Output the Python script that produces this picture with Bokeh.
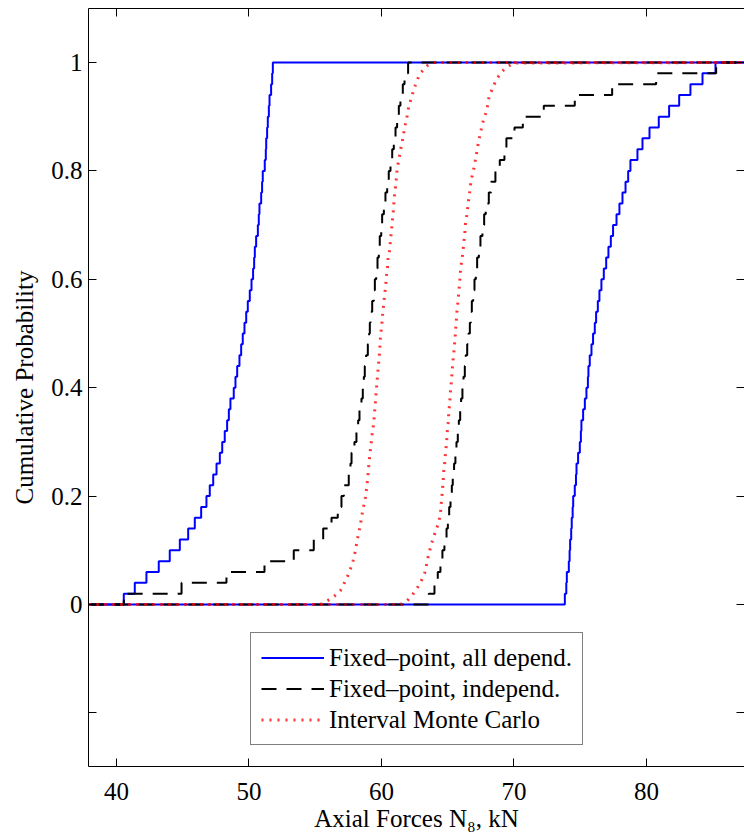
from bokeh.plotting import figure
from bokeh.models import Range1d, LinearAxis, FixedTicker, Legend, LegendItem
from bokeh.embed import file_html
from bokeh.resources import INLINE

# ---------------- data ----------------
X_MIN, X_MAX = 37.887, 87.40
Y_MIN, Y_MAX = -0.2989, 1.0996
x_ticks = [40, 50, 60, 70, 80]
y_ticks = [-0.2, 0, 0.2, 0.4, 0.6, 0.8, 1.0]
y_tick_labels = ["", "0", "0.2", "0.4", "0.6", "0.8", "1"]

x_label = "Axial Forces N\u2088, kN"
y_label = "Cumulative Probability"
legend_labels = ["Fixed\u2013point, all depend.",
                 "Fixed\u2013point, independ.",
                 "Interval Monte Carlo"]

# sample values (50 each) of the step CDF bounds
dep_lower = [40.55, 41.38, 42.26, 43.19, 44.02, 44.78, 45.41, 45.91, 46.39, 46.79,
             47.04, 47.30, 47.55, 47.80, 47.98, 48.17, 48.35, 48.48, 48.60, 48.85,
             48.98, 49.11, 49.28, 49.41, 49.53, 49.66, 49.79, 49.91, 50.06, 50.19,
             50.31, 50.39, 50.44, 50.54, 50.67, 50.74, 50.79, 50.92, 50.99, 51.04,
             51.19, 51.27, 51.30, 51.37, 51.42, 51.50, 51.55, 51.67, 51.75, 51.80]
dep_upper = [73.84, 73.95, 73.99, 74.14, 74.20, 74.24, 74.32, 74.36, 74.43, 74.47,
             74.59, 74.68, 74.72, 74.84, 74.97, 75.05, 75.09, 75.22, 75.35, 75.47,
             75.58, 75.62, 75.72, 75.85, 75.97, 76.10, 76.20, 76.33, 76.45, 76.60,
             76.78, 76.96, 77.13, 77.31, 77.48, 77.74, 77.96, 78.19, 78.42, 78.62,
             78.79, 79.32, 79.70, 80.23, 80.93, 81.71, 82.47, 83.32, 84.23, 85.21]
ind_lower = [40.55, 44.91, 48.30, 51.17, 53.38, 54.89, 55.60, 56.23, 56.70, 56.98,
             57.16, 57.53, 57.66, 57.74, 57.96, 58.11, 58.24, 58.34, 58.49, 58.59,
             58.67, 58.74, 58.84, 58.97, 59.07, 59.12, 59.17, 59.30, 59.42, 59.50,
             59.60, 59.70, 59.80, 59.87, 59.98, 60.05, 60.18, 60.30, 60.43, 60.55,
             60.68, 60.81, 60.93, 61.06, 61.18, 61.31, 61.43, 61.61, 61.74, 62.01]
ind_upper = [63.57, 64.00, 64.25, 64.45, 64.60, 64.75, 64.91, 65.01, 65.11, 65.21,
             65.31, 65.38, 65.48, 65.58, 65.66, 65.76, 65.84, 65.94, 66.01, 66.11,
             66.19, 66.29, 66.36, 66.47, 66.57, 66.67, 66.74, 66.82, 66.92, 67.02,
             67.12, 67.22, 67.35, 67.47, 67.62, 67.75, 67.87, 68.10, 68.28, 68.60,
             68.93, 69.28, 69.43, 70.04, 70.67, 72.25, 74.59, 77.41, 80.73, 85.26]

# Interval Monte Carlo bounds (read as curves)
imc_lower_x = [55.40, 55.65, 56.15, 56.53, 56.91, 57.16, 57.41, 57.66, 57.86, 58.04,
               58.16, 58.29, 58.42, 58.54, 58.67, 58.79, 58.92, 59.04, 59.17, 59.30,
               59.42, 59.55, 59.67, 59.85, 59.92, 60.02, 60.10, 60.18, 60.25, 60.33,
               60.38, 60.45, 60.50, 60.63, 60.68, 60.75, 60.81, 60.88, 60.93, 60.98,
               61.06, 61.13, 61.18, 61.31, 61.43, 61.56, 61.68, 61.81, 61.94, 62.06,
               62.26, 62.44, 62.64, 62.89, 63.45, 63.95]
imc_lower_y = [0.000, 0.004, 0.010, 0.017, 0.026, 0.038, 0.050, 0.066, 0.081, 0.100,
               0.118, 0.133, 0.149, 0.167, 0.183, 0.198, 0.223, 0.256, 0.287, 0.315,
               0.336, 0.376, 0.413, 0.463, 0.493, 0.515, 0.539, 0.558, 0.573, 0.592,
               0.607, 0.622, 0.640, 0.656, 0.673, 0.689, 0.705, 0.722, 0.739, 0.755,
               0.771, 0.788, 0.804, 0.820, 0.838, 0.853, 0.870, 0.887, 0.902, 0.919,
               0.935, 0.950, 0.964, 0.979, 0.994, 1.000]
imc_upper_x = [61.31, 61.56, 61.94, 62.32, 62.57, 62.82, 63.07, 63.25, 63.37, 63.45,
               63.57, 63.75, 64.05, 64.30, 64.45, 64.50, 64.58, 64.65, 64.70, 64.78,
               64.83, 64.91, 64.96, 65.03, 65.08, 65.16, 65.21, 65.28, 65.33, 65.38,
               65.46, 65.53, 65.58, 65.66, 65.71, 65.79, 65.84, 65.91, 65.96, 66.04,
               66.14, 66.21, 66.29, 66.34, 66.47, 66.54, 66.64, 66.72, 66.84, 66.97,
               67.09, 67.22, 67.34, 67.47, 67.60, 67.80, 67.98, 68.10, 68.23, 68.43,
               68.60, 68.85, 69.11, 69.49, 69.86, 70.24]
imc_upper_y = [0.000, 0.001, 0.007, 0.017, 0.026, 0.035, 0.047, 0.057, 0.069, 0.081,
               0.093, 0.110, 0.133, 0.150, 0.167, 0.184, 0.204, 0.225, 0.245, 0.262,
               0.279, 0.297, 0.317, 0.334, 0.354, 0.375, 0.395, 0.412, 0.429, 0.446,
               0.464, 0.484, 0.501, 0.528, 0.545, 0.562, 0.579, 0.596, 0.614, 0.631,
               0.648, 0.668, 0.685, 0.702, 0.723, 0.740, 0.757, 0.774, 0.791, 0.804,
               0.821, 0.838, 0.856, 0.869, 0.886, 0.900, 0.917, 0.934, 0.944, 0.954,
               0.965, 0.975, 0.984, 0.992, 0.997, 0.999]

FONT = "Liberation Serif"


def ecdf(samples):
    n = len(samples)
    xs = [X_MIN] + list(samples) + [X_MAX]
    ys = [0.0] + [(i + 1) / n for i in range(n)] + [1.0]
    return xs, ys


def full_curve(xs, ys):
    return [X_MIN] + list(xs) + [X_MAX], [0.0] + list(ys) + [1.0]


p = figure(width=744, height=834,
           x_range=Range1d(X_MIN, X_MAX), y_range=Range1d(Y_MIN, Y_MAX),
           output_backend="svg", toolbar_location=None,
           min_border_left=88, min_border_right=0, min_border_top=8, min_border_bottom=68)
p.outline_line_color = None
p.grid.visible = False
p.background_fill_color = "white"
p.border_fill_color = "white"

BLUE, BLACK, RED = "#0000ff", "#000000", "#ff0000"

bx, by = ecdf(dep_lower)
r_dep = p.step(bx, by, mode="after", line_color=BLUE, line_width=2)
bx, by = ecdf(dep_upper)
p.step(bx, by, mode="after", line_color=BLUE, line_width=2)

kx, ky = ecdf(ind_lower)
r_ind = p.step(kx, ky, mode="after", line_color=BLACK, line_width=2, line_dash="15 10")
kx, ky = ecdf(ind_upper)
p.step(kx, ky, mode="after", line_color=BLACK, line_width=2, line_dash="15 10")

rx, ry = full_curve(imc_lower_x, imc_lower_y)
r_imc = p.line(rx, ry, line_color=RED, line_width=3, line_dash="2 6", line_alpha=0.8)
rx, ry = full_curve(imc_upper_x, imc_upper_y)
p.line(rx, ry, line_color=RED, line_width=3, line_dash="2 6", line_alpha=0.8)

# ---------------- axes ----------------
def style_axis(ax, ticks):
    ax.ticker = FixedTicker(ticks=ticks)
    ax.minor_tick_line_color = None
    ax.major_tick_in = 8
    ax.major_tick_out = 0
    ax.major_tick_line_color = "black"
    ax.axis_line_color = "black"
    ax.axis_line_width = 1
    ax.major_label_text_font = FONT
    ax.major_label_text_font_size = "25px"
    ax.major_label_text_color = "black"

xa = p.xaxis[0]
style_axis(xa, x_ticks)
xa.major_label_standoff = 16
xa.axis_label = x_label
xa.axis_label_text_font = FONT
xa.axis_label_text_font_size = "25px"
xa.axis_label_text_font_style = "normal"
xa.axis_label_text_color = "black"
xa.axis_label_standoff = 2

ya = p.yaxis[0]
style_axis(ya, y_ticks)
ya.major_label_standoff = 6
ya.major_label_overrides = {t: s for t, s in zip(y_ticks, y_tick_labels)}
ya.axis_label = y_label
ya.axis_label_text_font = FONT
ya.axis_label_text_font_size = "25px"
ya.axis_label_text_font_style = "normal"
ya.axis_label_text_color = "black"
ya.axis_label_standoff = 10

top = LinearAxis()
style_axis(top, x_ticks)
top.major_label_text_font_size = "0px"
top.major_label_standoff = 0
top.major_label_overrides = {t: "" for t in x_ticks}
p.add_layout(top, "above")

right = LinearAxis()
style_axis(right, y_ticks)
right.axis_line_color = None
right.major_label_text_font_size = "0px"
right.major_label_standoff = 0
right.major_label_overrides = {t: "" for t in y_ticks}
p.add_layout(right, "right")

# ---------------- legend ----------------
legend = Legend(items=[LegendItem(label=legend_labels[0], renderers=[r_dep]),
                       LegendItem(label=legend_labels[1], renderers=[r_ind]),
                       LegendItem(label=legend_labels[2], renderers=[r_imc])],
                location=(162, 21))
legend.border_line_color = "black"
legend.border_line_width = 1
legend.background_fill_color = "white"
legend.background_fill_alpha = 1
legend.label_text_font = FONT
legend.label_text_font_size = "25px"
legend.label_text_color = "black"
legend.glyph_width = 63
legend.glyph_height = 29
legend.label_height = 29
legend.label_standoff = 5
legend.padding = 10
legend.spacing = 2
legend.margin = 0
p.add_layout(legend)

open("out.html", "w").write(file_html(p, INLINE))
